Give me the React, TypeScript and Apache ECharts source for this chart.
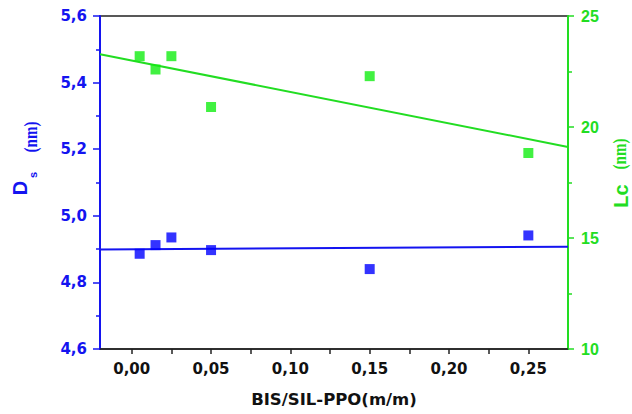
import React, { useEffect, useRef } from "react";
import * as echarts from "echarts";

const xValues = [0.005, 0.015, 0.025, 0.05, 0.15, 0.25];
const dsValues = [4.886, 4.912, 4.935, 4.897, 4.84, 4.941];
const lcValues = [23.19, 22.59, 23.19, 20.9, 22.29, 18.83];
const fitX = [-0.02, 0.275];
const dsFit = [4.899, 4.907];
const lcFit = [23.28, 19.1];
const xTickLabels = [0, 0.05, 0.1, 0.15, 0.2, 0.25];
const xTicks = [0, 0.025, 0.05, 0.075, 0.1, 0.125, 0.15, 0.175, 0.2, 0.225, 0.25];

const BLUE = "#1414f0";
const GREEN = "#22dd22";
const WIDE = "DejaVu Sans, Verdana, sans-serif";
const NARROW = "Liberation Sans, Arial, sans-serif";

export default function App() {
  const ref = useRef<HTMLDivElement>(null);
  useEffect(() => {
    if (!ref.current) return;
    const chart = echarts.init(ref.current, null, { renderer: "svg" });
    const pair = (xs: number[], ys: number[]) => xs.map((x, i) => [x, ys[i]]);
    chart.setOption({
      animation: false,
      backgroundColor: "#fff",
      grid: {
        left: 100,
        right: 64,
        top: 16,
        bottom: 65,
        show: true,
        borderColor: "#222",
        borderWidth: 1.5,
      },
      xAxis: {
        type: "value",
        min: fitX[0],
        max: fitX[1],
        name: "BIS/SIL-PPO(m/m)",
        nameLocation: "middle",
        nameGap: 42,
        nameTextStyle: { color: "#111", fontSize: 16.5, fontWeight: "bold", fontFamily: WIDE },
        splitLine: { show: false },
        axisLine: { onZero: false, lineStyle: { color: "#222", width: 1.5 } },
        axisTick: { show: true, length: 5, customValues: xTicks, lineStyle: { color: "#222", width: 1.5 } },
        axisLabel: {
          customValues: xTickLabels,
          margin: 12,
          color: "#111",
          fontSize: 15,
          fontWeight: "bold",
          fontFamily: WIDE,
          formatter: (v: number) => v.toFixed(2).replace(".", ","),
        },
      },
      yAxis: [
        {
          type: "value",
          position: "left",
          min: 4.6,
          max: 5.6,
          interval: 0.2,
          splitLine: { show: false },
          axisLine: { show: true, onZero: false, lineStyle: { color: BLUE, width: 2 } },
          axisTick: { show: true, length: 7, lineStyle: { color: BLUE, width: 1.5 } },
          minorTick: { show: true, splitNumber: 2, length: 4, lineStyle: { color: BLUE, width: 1.5 } },
          axisLabel: {
            margin: 13,
            color: BLUE,
            fontSize: 15,
            fontWeight: "bold",
            fontFamily: WIDE,
            formatter: (v: number) => v.toFixed(1).replace(".", ","),
          },
        },
        {
          type: "value",
          position: "right",
          min: 10,
          max: 25,
          interval: 5,
          splitLine: { show: false },
          axisLine: { show: true, onZero: false, lineStyle: { color: GREEN, width: 2 } },
          axisTick: { show: true, length: 6, lineStyle: { color: GREEN, width: 1.5 } },
          minorTick: { show: true, splitNumber: 2, length: 4, lineStyle: { color: GREEN, width: 1.5 } },
          axisLabel: {
            margin: 13,
            color: GREEN,
            fontSize: 16,
            fontWeight: "bold",
            fontFamily: NARROW,
          },
        },
      ],
      graphic: [
        {
          type: "text",
          x: 19.5,
          y: 188,
          rotation: Math.PI / 2,
          style: { text: "D", fill: BLUE, fontSize: 20, fontWeight: "bold", fontFamily: NARROW, align: "center", verticalAlign: "middle" },
        },
        {
          type: "text",
          x: 33,
          y: 175,
          rotation: Math.PI / 2,
          style: { text: "s", fill: BLUE, fontSize: 11, fontWeight: "bold", fontFamily: NARROW, align: "center", verticalAlign: "middle" },
        },
        {
          type: "text",
          x: 31,
          y: 137,
          rotation: Math.PI / 2,
          scaleY: 1.3,
          style: { text: "(nm)", fill: BLUE, fontSize: 15, fontWeight: "bold", fontFamily: "Liberation Serif, serif", align: "center", verticalAlign: "middle" },
        },
        {
          type: "text",
          x: 621,
          y: 196,
          rotation: Math.PI / 2,
          style: { text: "Lc", fill: GREEN, fontSize: 20, fontWeight: "bold", fontFamily: NARROW, align: "center", verticalAlign: "middle" },
        },
        {
          type: "text",
          x: 620,
          y: 154,
          rotation: Math.PI / 2,
          scaleY: 1.3,
          style: { text: "(nm)", fill: GREEN, fontSize: 15, fontWeight: "bold", fontFamily: "Liberation Serif, serif", align: "center", verticalAlign: "middle" },
        },
      ],
      series: [
        {
          type: "line",
          yAxisIndex: 0,
          data: pair(fitX, dsFit),
          showSymbol: false,
          lineStyle: { color: BLUE, width: 2 },
          z: 2,
        },
        {
          type: "line",
          yAxisIndex: 1,
          data: pair(fitX, lcFit),
          showSymbol: false,
          lineStyle: { color: GREEN, width: 2 },
          z: 2,
        },
        {
          type: "scatter",
          yAxisIndex: 0,
          data: pair(xValues, dsValues),
          symbol: "rect",
          symbolSize: 10,
          itemStyle: { color: "#0000ff" },
          z: 3,
        },
        {
          type: "scatter",
          yAxisIndex: 1,
          data: pair(xValues, lcValues),
          symbol: "rect",
          symbolSize: 10,
          itemStyle: { color: "#11ee11" },
          z: 3,
        },
      ],
    });
    return () => chart.dispose();
  }, []);
  return <div ref={ref} style={{ width: 632, height: 414, position: "absolute", left: 0, top: 0 }} />;
}
